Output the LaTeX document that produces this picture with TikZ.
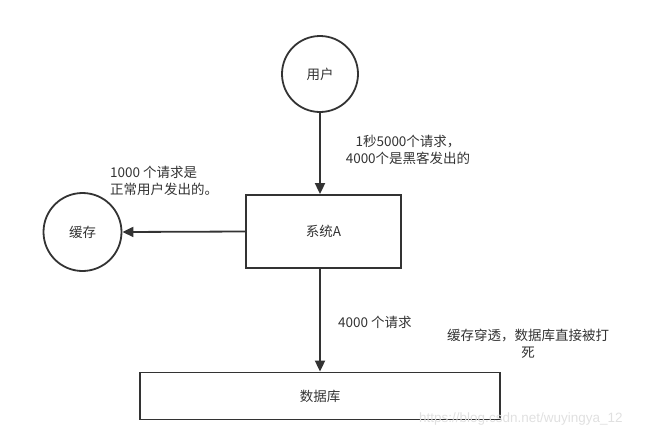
\documentclass[tikz,border=0pt]{standalone}
\usepackage{fontspec}
\setmainfont{Liberation Sans}
\newfontfamily\cjk{Noto Sans CJK SC}
\usetikzlibrary{arrows.meta}
\definecolor{ink}{HTML}{333333}
\begin{document}
\begin{tikzpicture}[x=1pt,y=-1pt,
  every node/.style={font=\cjk\fontsize{13.5}{17}\selectfont, text=ink},
  circ/.style={draw=ink, line width=1.8pt, circle, minimum size=76pt, inner sep=0pt},
  boxn/.style={draw=ink, line width=1.8pt, rectangle, inner sep=0pt},
  conn/.style={draw=ink, line width=1.8pt, -{Triangle[length=11pt,width=10pt]}},
  lbl/.style={align=left, inner sep=0pt}]
\useasboundingbox (0,0) rectangle (669,437);
\node[circ] (user) at (320,74) {用户};
\node[boxn, minimum width=155pt, minimum height=73pt] (sys) at (323.5,231.5) {系统A};
\node[circ, minimum size=78pt] (cache) at (82.5,232) {缓存};
\node[boxn, minimum width=360pt, minimum height=47pt] (db) at (320,396) {数据库};
\draw[conn] (user.south) -- (user.south |- sys.north);
\draw[conn] (sys.west) -- (cache.east);
\draw[conn] (sys.south -| user.south) -- (user.south |- db.north);
\node[lbl, align=center] (l1) at (408,150) {1秒5000个请求，\\4000个是黑客发出的};
\node[lbl, anchor=west] (l2) at (110,181) {1000 个请求是\\正常用户发出的。};
\node[lbl, anchor=west] (l3) at (338,322) {4000 个请求};
\node[lbl, align=center] (l4) at (528,344) {缓存穿透，数据库直接被打\\死};
\node[inner sep=0pt, anchor=west, font=\fontsize{13.5}{15}\selectfont, text=black!12] (wm) at (419,419) {https://blog.csdn.net/wuyingya\_12};
\end{tikzpicture}
\end{document}
